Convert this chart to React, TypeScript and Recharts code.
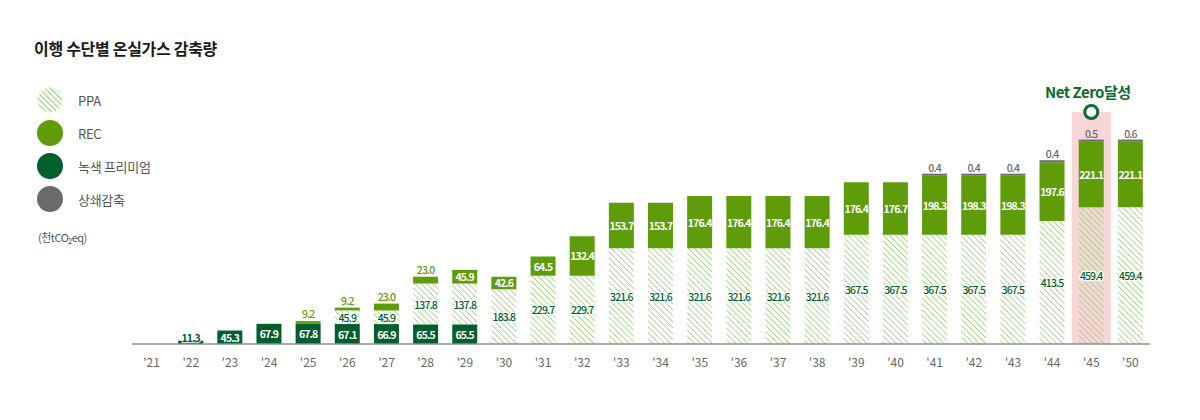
import { Bar, BarChart, LabelList, ReferenceArea, ReferenceDot, XAxis, YAxis } from "recharts";

const years = ["'21", "'22", "'23", "'24", "'25", "'26", "'27", "'28", "'29", "'30", "'31", "'32", "'33", "'34", "'35", "'36", "'37", "'38", "'39", "'40", "'41", "'42", "'43", "'44", "'45", "'50"];
const greenPremium = [0, 11.3, 45.3, 67.9, 67.8, 67.1, 66.9, 65.5, 65.5, 0, 0, 0, 0, 0, 0, 0, 0, 0, 0, 0, 0, 0, 0, 0, 0, 0];
const ppa = [0, 0, 0, 0, 0, 45.9, 45.9, 137.8, 137.8, 183.8, 229.7, 229.7, 321.6, 321.6, 321.6, 321.6, 321.6, 321.6, 367.5, 367.5, 367.5, 367.5, 367.5, 413.5, 459.4, 459.4];
const rec = [0, 0, 0, 0, 9.2, 9.2, 23.0, 23.0, 45.9, 42.6, 64.5, 132.4, 153.7, 153.7, 176.4, 176.4, 176.4, 176.4, 176.4, 176.7, 198.3, 198.3, 198.3, 197.6, 221.1, 221.1];
const offset = [0, 0, 0, 0, 0, 0, 0, 0, 0, 0, 0, 0, 0, 0, 0, 0, 0, 0, 0, 0, 0.4, 0.4, 0.4, 0.4, 0.5, 0.6];

const legendItems = ["PPA", "REC", "녹색 프리미엄", "상쇄감축"];

const data = years.map((year, i) => ({
  year,
  gp: greenPremium[i],
  ppa: ppa[i],
  rec: rec[i],
  offset: offset[i],
}));

const DARK = "#005f2d";
const REC_GREEN = "#5e9c0a";
const GRAY = "#6a6a6a";
const HATCH = "#9fcf80";
const FONT = "'Noto Sans CJK KR', 'Noto Sans', sans-serif";

const labelBase = { fontSize: 10.5, fontWeight: 700, letterSpacing: -0.9, fontFamily: FONT } as const;

function gpLabel(p: any) {
  const { x, y, width, height, value } = p;
  if (!value) return null;
  if (height < 8) {
    return (
      <text x={x + width / 2} y={y + 1} textAnchor="middle" fill={DARK} stroke="#fff" strokeWidth={1.5} paintOrder="stroke" {...labelBase}>
        {value.toFixed(1)}
      </text>
    );
  }
  return (
    <text x={x + width / 2} y={y + height / 2} textAnchor="middle" dominantBaseline="central" fill="#fff" {...labelBase}>
      {value.toFixed(1)}
    </text>
  );
}

function ppaLabel(p: any) {
  const { x, y, width, height, value } = p;
  if (!value) return null;
  return (
    <text x={x + width / 2} y={y + height / 2} textAnchor="middle" dominantBaseline="central" fill={DARK} stroke="#fff" strokeWidth={2.5} paintOrder="stroke" {...labelBase} fontWeight={500}>
      {value.toFixed(1)}
    </text>
  );
}

function recLabel(p: any) {
  const { x, y, width, height, value } = p;
  if (!value) return null;
  if (value < 30) {
    return (
      <text x={x + width / 2} y={y - 3} textAnchor="middle" fill={REC_GREEN} {...labelBase} fontWeight={500}>
        {value.toFixed(1)}
      </text>
    );
  }
  return (
    <text x={x + width / 2} y={y + height / 2} textAnchor="middle" dominantBaseline="central" fill="#fff" {...labelBase}>
      {value.toFixed(1)}
    </text>
  );
}

function offsetLabel(p: any) {
  const { x, y, width, height, value } = p;
  if (!value) return null;
  return (
    <text x={x + width / 2} y={y + height - 4} textAnchor="middle" fill={GRAY} {...labelBase} fontWeight={500}>
      {value.toFixed(1)}
    </text>
  );
}

function offsetShape(p: any) {
  const { x, y, width, height, payload } = p;
  if (!payload || !payload.offset) return null;
  return <rect x={x} y={y + height - 2} width={width} height={2} fill={GRAY} />;
}

function netZeroLabel(p: any) {
  const vb = p.viewBox || {};
  const cx = vb.cx ?? vb.x;
  const cy = vb.cy ?? vb.y;
  return (
    <text x={cx + 3} y={cy - 8} textAnchor="middle" fill="#0b6b2e" fontSize={15} fontWeight={700} letterSpacing={-0.5} fontFamily={FONT}>
      Net Zero달성
    </text>
  );
}

function HatchIcon() {
  return (
    <svg width={26} height={26}>
      <defs>
        <pattern id="hatchLegend" patternUnits="userSpaceOnUse" width={4} height={4} patternTransform="rotate(-45)">
          <line x1={0} y1={0} x2={0} y2={4} stroke={HATCH} strokeWidth={2.4} />
        </pattern>
      </defs>
      <circle cx={13} cy={13} r={12.5} fill="url(#hatchLegend)" />
    </svg>
  );
}

export default function App() {
  const colors = ["", REC_GREEN, DARK, GRAY];
  return (
    <div style={{ position: "absolute", left: 0, top: 0, width: 1200, height: 420, background: "#fff", fontFamily: FONT }}>
      <div style={{ position: "absolute", left: 34, top: 36, fontSize: 16, fontWeight: 700, color: "#1a1a1a", letterSpacing: -0.3 }}>
        이행 수단별 온실가스 감축량
      </div>
      {legendItems.map((name, i) => (
        <div key={name} style={{ position: "absolute", left: 37, top: 87 + i * 33, display: "flex", alignItems: "center", height: 26 }}>
          {i === 0 ? (
            <HatchIcon />
          ) : (
            <div style={{ width: 26, height: 26, borderRadius: 13, background: colors[i] }} />
          )}
          <span style={{ marginLeft: 15, fontSize: 13, color: "#555", letterSpacing: -0.3 }}>{name}</span>
        </div>
      ))}
      <div style={{ position: "absolute", left: 38, top: 229, fontSize: 11, color: "#555", letterSpacing: -0.5 }}>(천tCO₂eq)</div>
      <div style={{ position: "absolute", left: 0, top: 0 }}>
        <BarChart width={1200} height={420} data={data} margin={{ top: 112, right: 50, left: 132, bottom: 46 }}>
          <defs>
            <pattern id="hatch" patternUnits="userSpaceOnUse" width={4.2} height={4.2} patternTransform="rotate(-45)">
              <line x1={0} y1={0} x2={0} y2={4.2} stroke={HATCH} strokeWidth={1.6} />
            </pattern>
          </defs>
          <ReferenceArea x1="'45" x2="'45" y1={0} y2={780} fill="#f7d6d6" fillOpacity={1} stroke="none" ifOverflow="visible" />
          <XAxis
            dataKey="year"
            tickLine={false}
            axisLine={{ stroke: "#8f8f8f", strokeWidth: 1.5 }}
            tick={{ fill: "#666", fontSize: 12, fontFamily: FONT }}
            tickMargin={8}
            height={30}
            interval={0}
          />
          <YAxis hide domain={[0, 780]} />
          <Bar dataKey="gp" stackId="a" fill={DARK} barSize={25} isAnimationActive={false}>
            <LabelList dataKey="gp" content={gpLabel} />
          </Bar>
          <Bar dataKey="ppa" stackId="a" fill="url(#hatch)" barSize={25} isAnimationActive={false}>
            <LabelList dataKey="ppa" content={ppaLabel} />
          </Bar>
          <Bar dataKey="rec" stackId="a" fill={REC_GREEN} barSize={25} isAnimationActive={false}>
            <LabelList dataKey="rec" content={recLabel} />
          </Bar>
          <Bar dataKey="offset" stackId="a" fill={GRAY} barSize={25} shape={offsetShape} isAnimationActive={false}>
            <LabelList dataKey="offset" content={offsetLabel} />
          </Bar>
          <ReferenceDot x="'45" y={780} r={6.5} fill="#fff" stroke="#0b6b2e" strokeWidth={3} ifOverflow="visible" label={netZeroLabel} />
        </BarChart>
      </div>
    </div>
  );
}
